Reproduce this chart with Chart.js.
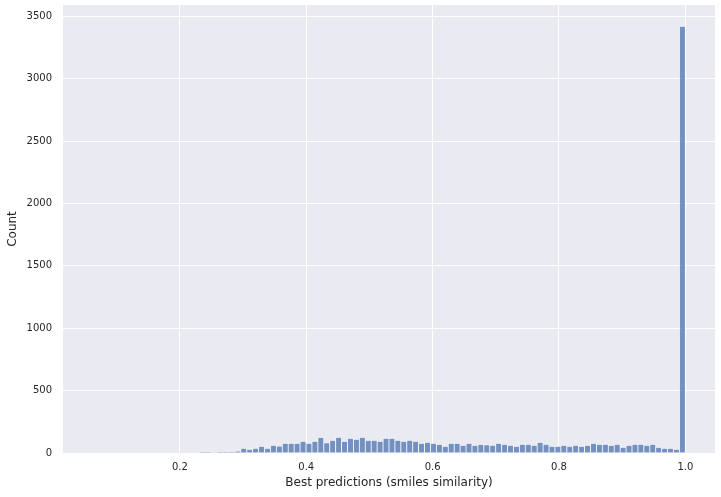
<!DOCTYPE html>
<html>
<head>
<meta charset="utf-8">
<script src="https://cdn.jsdelivr.net/npm/chart.js@4.4.1/dist/chart.umd.min.js"></script>
<style>
html, body { margin: 0; padding: 0; background: #fff; }
#wrap { width: 721px; height: 497px; }
</style>
</head>
<body>
<div id="wrap"><canvas id="chart"></canvas></div>
<script>
// histogram bins: start of first bin and bin width
const binStart = 0.062;
const binWidth = 0.00938;

// count per bin (100 bins)
const counts = [
    0, 0, 0, 0, 0, 0, 0, 0, 0, 0,
    0, 0, 0, 0, 0, 0, 0, 0, 5, 5,
    0, 5, 5, 5, 13, 38, 29, 38, 54, 38,
    62, 55, 78, 78, 78, 94, 78, 94, 126, 82,
    102, 126, 94, 118, 110, 126, 102, 102, 94, 118,
    118, 102, 94, 102, 94, 78, 86, 78, 70, 54,
    78, 78, 62, 78, 62, 70, 66, 62, 78, 70,
    62, 54, 70, 70, 62, 86, 70, 54, 54, 62,
    54, 62, 54, 62, 78, 70, 70, 62, 70, 46,
    62, 70, 70, 62, 70, 46, 38, 38, 30, 3420
];

const xTicks = [0.2, 0.4, 0.6, 0.8, 1.0];
const yTicks = [0, 500, 1000, 1500, 2000, 2500, 3000, 3500];
const xLabel = 'Best predictions (smiles similarity)';
const yLabel = 'Count';

// matplotlib style margins
let span = counts.length * binWidth;
let xMin = binStart - 0.05 * span;
let xMax = binStart + span + 0.05 * span;
let yMax = Math.max(...counts) * 1.05;

let points = counts.map((c, i) => ({x: binStart + (i + 0.5) * binWidth, y: c}));

const textColor = '#262626';
const tickFont = {family: 'DejaVu Sans', size: 10};
const labelFont = {family: 'DejaVu Sans', size: 12};

const plotBackground = {
    id: 'plotBackground',
    beforeDraw(chart) {
        let {ctx, chartArea} = chart;
        ctx.save();
        ctx.fillStyle = '#eaeaf2';
        ctx.fillRect(chartArea.left, chartArea.top, chartArea.right - chartArea.left, chartArea.bottom - chartArea.top);
        ctx.restore();
    }
};

let canvas = document.getElementById('chart');
let chart = new Chart(canvas, {
    type: 'bar',
    data: {
        datasets: [{
            data: points,
            backgroundColor: 'rgba(76, 114, 176, 0.75)',
            borderColor: 'rgba(255, 255, 255, 0.75)',
            borderWidth: 0.75,
            barPercentage: 1.0,
            categoryPercentage: 1.0
        }]
    },
    options: {
        responsive: true,
        maintainAspectRatio: false,
        animation: false,
        devicePixelRatio: 1,
        layout: {padding: {top: 5, right: 6, left: 0, bottom: 0}},
        plugins: {
            legend: {display: false},
            tooltip: {enabled: false}
        },
        scales: {
            x: {
                type: 'linear',
                min: xMin,
                max: xMax,
                offset: false,
                afterBuildTicks: (scale) => { scale.ticks = xTicks.map((v) => ({value: v})); },
                afterFit: (scale) => {
                    scale.height = 44;
                    scale.paddingLeft = 0;
                    scale.paddingRight = 0;
                },
                grid: {color: '#ffffff', lineWidth: 1, drawTicks: false, offset: false},
                border: {display: false},
                ticks: {
                    padding: 8,
                    color: textColor,
                    font: tickFont,
                    autoSkip: false,
                    maxRotation: 0,
                    callback: (value) => value.toFixed(1)
                },
                title: {
                    display: true,
                    text: xLabel,
                    color: textColor,
                    font: labelFont,
                    padding: {top: 0, bottom: 7}
                }
            },
            y: {
                min: 0,
                max: yMax,
                afterBuildTicks: (scale) => { scale.ticks = yTicks.map((v) => ({value: v})); },
                afterFit: (scale) => {
                    scale.width = 63;
                    scale.paddingTop = 0;
                    scale.paddingBottom = 0;
                },
                grid: {color: '#ffffff', lineWidth: 1, drawTicks: false},
                border: {display: false},
                ticks: {
                    padding: 11,
                    color: textColor,
                    font: tickFont,
                    callback: (value) => String(value)
                },
                title: {
                    display: true,
                    text: yLabel,
                    color: textColor,
                    font: labelFont,
                    padding: {top: 6, bottom: 0}
                }
            }
        }
    },
    plugins: [plotBackground]
});
</script>
</body>
</html>
